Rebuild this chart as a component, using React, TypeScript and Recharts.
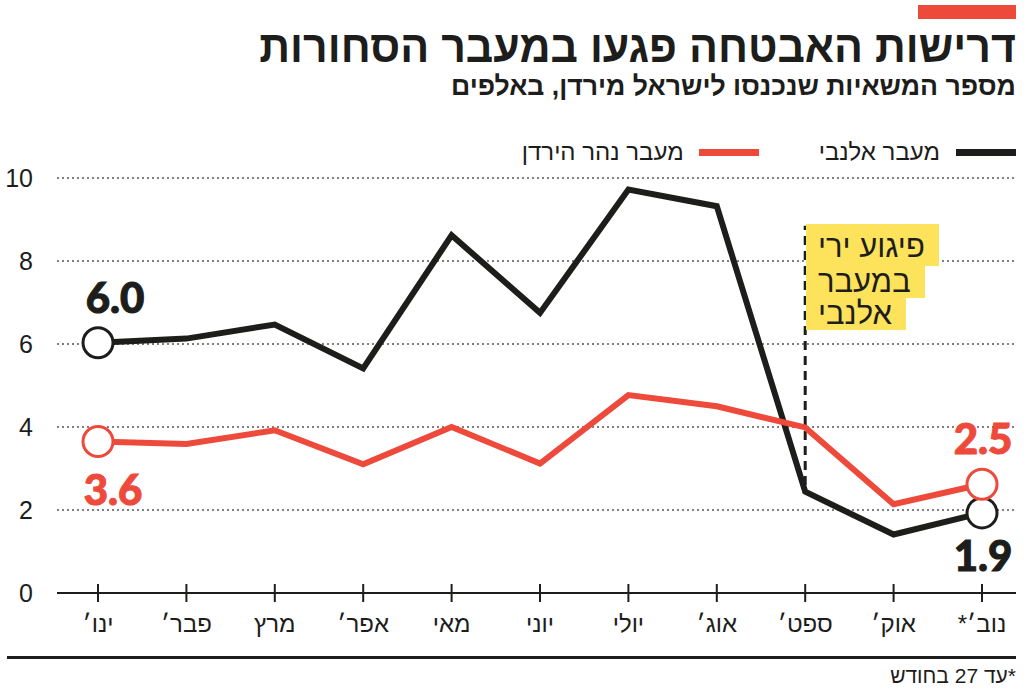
import { CartesianGrid, Line, LineChart, ReferenceLine, XAxis, YAxis } from "recharts";

const months = ["ינו׳", "פבר׳", "מרץ", "אפר׳", "מאי", "יוני", "יולי", "אוג׳", "ספט׳", "אוק׳", "נוב׳*"];
const allenby = [6.03, 6.13, 6.47, 5.41, 8.62, 6.75, 9.72, 9.32, 2.44, 1.41, 1.93];
const jordanRiver = [3.65, 3.59, 3.92, 3.1, 4.0, 3.12, 4.77, 4.5, 3.99, 2.14, 2.62];
const yTicks = [0, 2, 4, 6, 8, 10];
const allenbyEndLabels = ["6.0", "1.9"];
const jordanEndLabels = ["3.6", "2.5"];

const data = months.map((m, i) => ({ month: m, allenby: allenby[i], jordan: jordanRiver[i] }));

const RED = "#ee4a3c";
const BLACK = "#1d1d1b";
const HEB = "'Liberation Sans', 'DejaVu Sans', sans-serif";

const XTick = (props: any) => {
  const { x, y, payload } = props;
  return (
    <g>
      <line x1={x} x2={x} y1={y - 9} y2={y + 9} stroke={BLACK} strokeWidth={2} />
      <text x={x} y={y + 39} textAnchor="middle" fontSize={24} fill={BLACK} fontFamily={HEB} direction="rtl">
        {payload.value}
      </text>
    </g>
  );
};

const YTick = (props: any) => {
  const { x, y, payload } = props;
  return (
    <text x={x - 24} y={y + 9} textAnchor="end" fontSize={25} fill={BLACK} fontFamily={HEB}>
      {payload.value}
    </text>
  );
};

const endDot = (color: string) => (props: any) => {
  const { cx, cy, index } = props;
  if (index !== 0 && index !== months.length - 1) return <g key={index} />;
  return <circle key={index} cx={cx} cy={cy} r={15} fill="#fff" stroke={color} strokeWidth={3} />;
};

const endLabel = (color: string, texts: string[], offsets: number[][]) => (props: any) => {
  const { x, y, index } = props;
  const last = months.length - 1;
  if (index !== 0 && index !== last) return <g key={index} />;
  const k = index === 0 ? 0 : 1;
  return (
    <text
      key={index}
      x={x + offsets[k][0]}
      y={y + offsets[k][1]}
      textAnchor="middle"
      fontSize={42}
      fontWeight={900}
      fill={color}
      fontFamily="Lato, sans-serif"
      stroke={color}
      strokeWidth={1}
    >
      {texts[k]}
    </text>
  );
};

export default function App() {
  return (
    <div style={{ position: "absolute", left: 0, top: 0, width: 1024, height: 694, background: "#fff", fontFamily: HEB, color: BLACK }}>
      <div style={{ position: "absolute", left: 918, top: 5, width: 98, height: 14, background: RED }} />
      <div dir="rtl" style={{ position: "absolute", right: 8, top: 21, fontSize: 45, fontWeight: 700, lineHeight: "52px", whiteSpace: "nowrap", transform: "scaleX(0.953)", transformOrigin: "right center" }}>
        דרישות האבטחה פגעו במעבר הסחורות
      </div>
      <div dir="rtl" style={{ position: "absolute", right: 8, top: 70, fontSize: 27, fontWeight: 700, lineHeight: "32px", whiteSpace: "nowrap", transform: "scaleX(0.986)", transformOrigin: "right center" }}>
        מספר המשאיות שנכנסו לישראל מירדן, באלפים
      </div>

      <div dir="rtl" style={{ position: "absolute", right: 8, top: 138, display: "flex", alignItems: "center", fontSize: 24, whiteSpace: "nowrap" }}>
        <span style={{ width: 60, height: 7, background: BLACK, marginLeft: 16 }} />
        <span>מעבר אלנבי</span>
        <span style={{ width: 60, height: 7, background: RED, marginLeft: 15, marginRight: 60 }} />
        <span>מעבר נהר הירדן</span>
      </div>

      <LineChart width={1024} height={694} data={data} margin={{ top: 178, right: 8, bottom: 0, left: 0 }}>
        <CartesianGrid vertical={false} stroke="#555" strokeDasharray="2 3" strokeWidth={1.3} />
        <XAxis
          dataKey="month"
          height={101}
          padding={{ left: 41, right: 34 }}
          axisLine={{ stroke: BLACK, strokeWidth: 2 }}
          tickLine={false}
          tickSize={0}
          tickMargin={0}
          tick={<XTick />}
          interval={0}
        />
        <YAxis
          domain={[0, 10]}
          ticks={yTicks}
          width={57}
          axisLine={false}
          tickLine={false}
          tickSize={0}
          tickMargin={0}
          tick={<YTick />}
        />
        <ReferenceLine
          segment={[
            { x: "ספט׳", y: 2.6 },
            { x: "ספט׳", y: 8.85 },
          ]}
          stroke={BLACK}
          strokeWidth={3}
          strokeDasharray="9 6"
        />
        <Line
          dataKey="allenby"
          type="linear"
          stroke={BLACK}
          strokeWidth={6}
          strokeLinejoin="miter"
          dot={endDot(BLACK)}
          activeDot={false}
          label={endLabel(BLACK, allenbyEndLabels, [[17, -30], [1, 58]])}
          isAnimationActive={false}
        />
        <Line
          dataKey="jordan"
          type="linear"
          stroke={RED}
          strokeWidth={6}
          strokeLinejoin="miter"
          dot={endDot(RED)}
          activeDot={false}
          label={endLabel(RED, jordanEndLabels, [[15, 63], [1, -30]])}
          isAnimationActive={false}
        />
      </LineChart>

      <div style={{ position: "absolute", left: 806, top: 224, fontSize: 31, lineHeight: "32px" }}>
        {["פיגוע ירי", "במעבר", "אלנבי"].map((t, i) => (
          <div key={i} dir="rtl" style={{ textAlign: "right" }}>
            <span style={{ display: "inline-block", background: "#fde25c", padding: i === 0 ? "7px 14px 3px 12px" : "0 14px 0 12px", float: "left", clear: "left" }}>{t}</span>
          </div>
        ))}
      </div>

      <div style={{ position: "absolute", left: 7, top: 656, width: 1009, height: 3, background: BLACK }} />
      <div dir="rtl" style={{ position: "absolute", right: 8, top: 664, fontSize: 21, whiteSpace: "nowrap" }}>
        *עד 27 בחודש
      </div>
    </div>
  );
}
